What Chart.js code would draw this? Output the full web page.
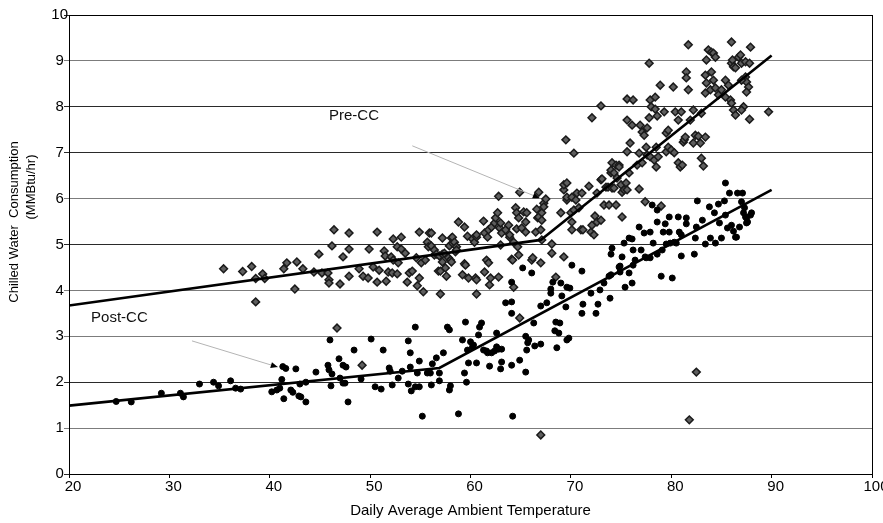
<!DOCTYPE html>
<html>
<head>
<meta charset="utf-8">
<script src="https://cdn.jsdelivr.net/npm/chart.js@4"></script>
<style>
html,body{margin:0;padding:0;overflow:hidden;background:#fff;}
#wrap{width:895px;height:523px;position:relative;}
</style>
</head>
<body>
<div id="wrap"><canvas id="c"></canvas></div>
<script>
// ---- Data ----
const xTicks = [20, 30, 40, 50, 60, 70, 80, 90, 100];
const yTicks = [0, 1, 2, 3, 4, 5, 6, 7, 8, 9, 10];

const preCCPoints = [
[35.4,4.47],[37.3,4.41],[38.2,4.52],[38.6,4.26],[38.6,3.75],[39.3,4.36],[39.5,4.26],[41.4,4.47],[41.7,4.6],[42.5,4.03],
[42.7,4.62],[43.3,4.47],[44.4,4.4],[44.9,4.79],[45.2,4.38],[45.8,4.38],[45.9,4.23],[45.9,4.16],[46.2,4.97],[46.4,5.32],
[47.0,4.14],[47.3,4.73],[47.9,4.31],[47.9,4.9],[47.9,5.25],[48.9,4.47],[49.3,4.31],[49.8,4.27],[49.9,4.9],[50.3,4.51],
[50.7,4.18],[50.7,5.27],[50.9,4.44],[51.4,4.86],[51.5,4.75],[51.6,4.2],[51.8,4.4],[52.1,4.73],[52.2,4.38],[52.3,4.66],
[52.3,5.12],[52.7,4.36],[52.7,4.95],[52.8,4.6],[53.1,4.9],[53.1,5.16],[53.5,4.81],[53.7,4.18],[53.9,4.38],[54.2,4.42],
[54.6,4.71],[54.7,4.1],[54.9,4.27],[54.9,5.27],[55.1,4.6],[55.3,3.97],[55.5,4.66],[55.7,5.05],[55.8,4.95],[55.9,5.25],
[56.1,4.97],[56.1,5.25],[56.4,4.77],[56.4,4.88],[56.6,4.79],[56.8,4.42],[56.9,4.75],[57.0,3.92],[57.0,4.42],[57.2,4.79],
[57.2,4.62],[57.2,5.14],[57.4,4.81],[57.5,4.49],[57.6,4.31],[57.8,4.71],[57.9,4.97],[58.0,4.66],[58.1,4.62],[58.1,5.14],
[58.2,5.03],[58.2,5.16],[58.4,5.05],[58.5,4.84],[58.6,4.95],[58.6,4.88],[58.8,5.49],[59.2,4.34],[59.4,4.58],[59.4,5.38],
[59.5,4.55],[59.7,5.18],[59.8,4.27],[60.2,5.12],[60.4,5.05],[60.5,4.27],[60.6,4.23],[60.6,3.92],[60.6,5.16],[60.6,5.21],
[61.3,5.51],[61.4,5.25],[61.4,4.4],[61.6,4.66],[61.7,5.16],[61.8,5.32],[61.8,4.6],[61.9,4.12],[62.0,4.27],[62.1,5.38],
[62.4,5.47],[62.5,5.58],[62.7,5.69],[62.8,6.05],[62.8,4.29],[62.9,5.36],[63.0,5.47],[63.0,4.99],[63.1,5.25],[63.5,5.32],
[63.8,5.42],[63.9,5.16],[63.9,5.21],[64.1,4.68],[64.2,4.66],[64.3,4.07],[64.3,5.05],[64.5,5.8],[64.6,5.69],[64.6,5.34],
[64.7,4.95],[64.8,5.58],[64.8,4.77],[64.9,6.14],[65.1,5.36],[65.3,5.71],[65.5,5.49],[65.5,5.27],[65.6,5.69],[66.1,4.66],
[66.2,4.71],[66.5,5.27],[66.6,5.77],[66.7,5.58],[66.8,5.6],[66.8,6.14],[67.0,5.32],[67.0,4.6],[67.1,5.69],[67.1,5.1],
[67.1,5.53],[67.3,5.9],[67.3,5.82],[67.5,5.99],[68.1,5.01],[68.1,4.81],[68.5,4.29],[69.0,5.69],[69.3,4.73],[69.3,6.19],
[69.3,6.3],[69.5,7.28],[69.6,5.97],[69.6,6.34],[69.6,6.03],[70.0,5.69],[70.1,6.03],[70.1,5.49],[70.1,5.32],[70.3,6.99],
[70.3,5.75],[70.5,5.97],[70.6,6.12],[70.8,5.8],[71.0,5.32],[71.1,6.12],[71.2,5.32],[71.8,6.27],[72.0,5.27],[72.1,5.42],
[72.1,7.76],[72.3,5.21],[72.4,5.62],[72.6,5.49],[72.6,6.12],[73.0,5.53],[73.0,8.02],[73.0,6.41],[73.1,6.43],[73.3,5.86],
[73.5,6.25],[73.7,6.25],[73.8,5.86],[74.0,6.56],[74.0,6.62],[74.1,6.78],[74.1,6.23],[74.3,6.23],[74.3,6.56],[74.5,5.86],
[74.5,6.73],[74.6,6.45],[74.8,6.73],[74.8,6.69],[75.0,6.3],[75.1,5.6],[75.1,6.14],[75.3,6.19],[75.5,6.34],[75.6,6.19],
[75.6,7.02],[75.6,7.71],[75.6,8.17],[75.8,6.56],[75.9,7.21],[76.1,7.6],[76.2,8.15],[76.6,6.73],[76.8,6.99],[76.8,6.21],
[76.9,7.6],[77.1,7.45],[77.1,6.78],[77.3,7.38],[77.4,5.93],[77.5,7.12],[77.6,7.54],[77.6,6.95],[77.8,7.76],[77.8,8.95],
[77.9,8.15],[77.9,6.91],[78.0,8.0],[78.3,6.84],[78.4,8.21],[78.4,7.95],[78.5,7.12],[78.5,6.69],[78.6,7.8],[78.7,6.91],
[78.9,8.47],[79.0,5.84],[79.3,7.89],[79.5,7.43],[79.5,7.02],[79.7,7.49],[79.7,7.12],[80.0,7.06],[80.2,8.43],[80.3,7.0],
[80.4,7.89],[80.7,7.71],[80.7,6.78],[80.9,6.69],[81.0,7.89],[81.1,6.73],[81.2,7.23],[81.3,7.28],[81.4,7.34],[81.5,8.76],
[81.5,8.63],[81.7,8.37],[81.7,9.35],[81.9,7.71],[82.2,7.93],[82.2,7.21],[82.4,7.38],[82.7,7.36],[82.9,7.21],[83.0,6.88],
[83.2,6.71],[83.4,7.34],[83.4,8.69],[83.5,9.02],[83.0,7.86],[83.4,8.3],[83.5,8.52],[83.7,9.24],[84.0,9.19],[84.2,9.17],
[84.4,9.08],[84.0,8.76],[84.2,8.58],[83.9,8.37],[84.4,8.41],[84.7,8.26],[85.0,8.37],[85.4,8.58],[85.7,8.47],[85.4,8.21],
[86.0,8.95],[86.1,9.02],[86.2,8.87],[86.0,9.41],[86.4,8.85],[86.7,9.08],[86.9,9.13],[87.0,8.95],[87.4,8.65],[87.5,8.54],
[87.7,8.43],[87.5,8.32],[87.0,8.58],[87.4,8.98],[87.9,9.3],[87.8,8.95],[85.9,8.15],[86.0,8.08],[86.2,7.93],[86.4,7.82],
[87.2,8.0],[87.0,7.93],[87.8,7.73],[89.7,7.89],
[67.0,0.85],[81.8,1.18],[82.5,2.22],[64.9,3.4],[49.2,2.37],[46.7,3.18]
];

const postCCPoints = [
[24.7,1.58],[26.2,1.57],[29.2,1.76],[31.1,1.76],[31.4,1.68],[33.0,1.96],[34.4,2.0],[34.9,1.92],[36.1,2.03],[36.6,1.87],
[37.1,1.85],[40.2,1.79],[40.7,1.83],[41.0,1.87],[41.2,2.06],[41.3,2.34],[41.6,2.3],[41.4,1.64],[42.1,1.83],[42.3,1.78],
[42.6,2.29],[42.9,1.7],[43.1,1.68],[43.6,1.57],[43.0,1.96],[43.6,2.0],[44.6,2.22],[45.8,2.37],[45.9,2.27],[46.0,2.92],
[46.2,2.18],[46.1,1.92],[46.9,2.51],[47.0,2.09],[47.3,1.98],[47.5,1.98],[47.3,2.37],[47.6,2.33],[47.8,1.57],[48.4,2.7],
[49.1,2.07],[50.1,2.94],[50.5,1.9],[51.1,1.85],[51.3,2.7],[51.9,2.31],[52.0,2.24],[52.2,1.94],[52.8,2.09],[53.2,2.24],
[53.8,2.9],[53.8,1.96],[54.0,2.64],[54.0,2.33],[54.1,1.81],[54.5,1.9],[54.5,3.2],[54.7,2.2],[54.9,2.46],[54.9,1.9],
[55.2,1.26],[55.7,2.2],[56.0,2.2],[56.1,1.94],[56.2,2.4],[56.6,2.53],[56.9,2.2],[56.9,2.03],[57.3,2.64],[57.7,3.2],
[57.9,3.14],[57.9,1.83],[58.0,1.92],[58.8,1.31],[59.2,2.92],[59.4,2.2],[59.5,3.31],[59.6,2.0],[59.7,2.7],[59.8,2.42],
[60.0,2.88],[60.2,2.77],[60.3,2.81],[60.6,2.42],[60.8,3.03],[60.9,3.2],[61.1,3.29],[61.3,2.7],[61.6,2.68],[61.7,2.64],
[61.9,2.35],[62.1,2.64],[62.4,2.68],[62.6,3.07],[62.6,2.77],[62.8,2.72],[63.0,2.29],[63.1,2.72],[63.1,2.44],[63.5,3.73],
[64.1,3.5],[64.1,3.75],[64.1,2.37],[64.2,1.26],[64.1,4.18],[64.9,2.48],[65.2,4.49],[65.5,3.0],[65.5,2.22],[65.6,2.7],
[65.7,2.86],[65.8,2.92],[66.1,4.38],[66.3,3.29],[66.4,2.79],[67.0,2.83],[67.0,3.66],[67.6,3.73],[68.0,4.03],[68.0,3.94],
[68.2,4.18],[68.4,3.12],[68.5,3.31],[68.6,2.75],[68.8,3.07],[68.9,3.29],[69.0,4.16],[69.1,3.88],[69.5,3.64],[69.6,4.07],
[69.6,2.92],[69.8,2.96],[69.9,4.05],[70.1,4.55],[71.1,4.42],[71.1,3.5],[71.2,3.7],[72.0,3.94],[72.5,3.5],[72.7,3.7],
[72.9,4.01],[73.3,4.16],[73.8,4.31],[73.9,3.83],[74.0,4.34],[74.1,4.92],[74.0,4.79],[74.8,4.51],[74.9,4.4],[74.9,4.53],
[75.1,4.73],[75.3,5.03],[75.4,4.07],[75.8,4.38],[76.1,4.16],[75.8,5.14],[76.1,5.12],[76.2,4.88],[76.2,4.55],[76.4,4.66],
[76.8,5.38],[77.0,4.88],[77.3,5.25],[77.4,4.73],[77.5,4.71],[77.9,5.27],[77.9,4.71],[78.1,5.86],[78.2,5.03],[78.6,5.75],
[78.6,4.79],[78.6,5.49],[79.0,4.31],[79.1,4.88],[79.2,5.27],[79.4,5.45],[79.5,5.01],[79.8,5.6],[79.8,5.27],[79.9,5.03],
[80.1,4.27],[80.3,5.05],[80.5,5.03],[80.7,5.6],[80.8,5.27],[81.0,4.75],[81.0,5.21],[81.5,5.58],[81.5,5.45],[82.3,4.79],
[82.4,5.14],[82.5,5.38],[82.6,5.95],[83.1,5.53],[83.4,5.01],[83.8,5.82],[83.9,5.14],[84.3,5.69],[84.4,5.03],[84.7,5.88],
[84.8,5.47],[85.0,5.14],[85.3,5.95],[85.4,6.34],[85.4,5.64],[85.6,5.36],[85.8,6.12],[86.0,5.42],[86.2,5.29],[86.4,5.16],
[86.5,5.16],[86.6,6.12],[86.8,5.38],[87.0,5.93],[87.1,6.12],[87.2,5.69],[87.3,5.8],[87.4,5.6],[87.5,5.58],[87.6,5.49],
[87.9,5.64],[88.0,5.69],[87.5,5.47]
];

// piecewise-linear fits
const preCCFit = [[20, 3.67], [67.0, 5.1], [90.0, 9.12]];
const postCCFit = [[20, 1.49], [56.9, 2.31], [90.0, 6.19]];

// callout labels (in data units)
const calloutLabels = ['Pre-CC', 'Post-CC'];
const calloutTextAt = [[45.9, 7.8], [22.2, 3.4]];
const calloutFrom = [[54.2, 7.15], [32.25, 2.90]];
const calloutTo = [[66.9, 6.01], [40.8, 2.33]];

const xTitle = 'Daily Average Ambient Temperature';
const yTitleLines = ['Chilled Water  Consumption', '(MMBtu/hr)'];

// ---- Chart ----
const FONT = "'Liberation Sans', Arial, Helvetica, sans-serif";
const toXY = arr => arr.map(p => ({x: p[0], y: p[1]}));

const overlayPlugin = {
  id: 'overlay',
  afterDraw(chart) {
    const ctx = chart.ctx, a = chart.chartArea;
    const xs = chart.scales.x, ys = chart.scales.y;
    ctx.save();
    // frame
    ctx.strokeStyle = '#000';
    ctx.lineWidth = 1;
    ctx.strokeRect(Math.round(a.left) + 0.5, Math.round(a.top) + 0.5, Math.round(a.right - a.left), Math.round(a.bottom - a.top));
    // callouts
    for (let i = 0; i < calloutLabels.length; i++) {
      const x1 = xs.getPixelForValue(calloutFrom[i][0]), y1 = ys.getPixelForValue(calloutFrom[i][1]);
      const x2 = xs.getPixelForValue(calloutTo[i][0]), y2 = ys.getPixelForValue(calloutTo[i][1]);
      ctx.strokeStyle = '#b4b4b4';
      ctx.lineWidth = 1;
      ctx.beginPath(); ctx.moveTo(x1, y1); ctx.lineTo(x2, y2); ctx.stroke();
      const ang = Math.atan2(y2 - y1, x2 - x1);
      ctx.fillStyle = '#000';
      ctx.beginPath();
      ctx.moveTo(x2, y2);
      ctx.lineTo(x2 - 7 * Math.cos(ang) + 3 * Math.sin(ang), y2 - 7 * Math.sin(ang) - 3 * Math.cos(ang));
      ctx.lineTo(x2 - 7 * Math.cos(ang) - 3 * Math.sin(ang), y2 - 7 * Math.sin(ang) + 3 * Math.cos(ang));
      ctx.closePath(); ctx.fill();
      ctx.font = '15px ' + FONT;
      ctx.fillStyle = '#111';
      ctx.textAlign = 'left';
      ctx.textBaseline = 'middle';
      ctx.fillText(calloutLabels[i], xs.getPixelForValue(calloutTextAt[i][0]), ys.getPixelForValue(calloutTextAt[i][1]));
    }
    // y-axis title (two lines)
    ctx.font = '13px ' + FONT;
    ctx.fillStyle = '#000';
    ctx.textAlign = 'center';
    ctx.textBaseline = 'middle';
    const yTitlePos = [[14, 222], [31, 187]];
    yTitleLines.forEach((t, i) => {
      ctx.save();
      ctx.translate(yTitlePos[i][0], yTitlePos[i][1]);
      ctx.rotate(-Math.PI / 2);
      ctx.fillText(t, 0, 0);
      ctx.restore();
    });
    ctx.restore();
  }
};

new Chart(document.getElementById('c'), {
  type: 'scatter',
  data: {
    datasets: [
      {label: 'Pre-CC fit', type: 'line', data: toXY(preCCFit), borderColor: '#000', borderWidth: 2.6,
       pointRadius: 0, fill: false, tension: 0, order: 0},
      {label: 'Post-CC fit', type: 'line', data: toXY(postCCFit), borderColor: '#000', borderWidth: 2.6,
       pointRadius: 0, fill: false, tension: 0, order: 0},
      {label: 'Post-CC', data: toXY(postCCPoints), pointStyle: 'circle', pointRadius: 3, borderWidth: 1,
       backgroundColor: '#000', borderColor: '#000', order: 1},
      {label: 'Pre-CC', data: toXY(preCCPoints), pointStyle: 'rectRot', pointRadius: 3.9, borderWidth: 1.5,
       backgroundColor: '#5e5e5e', borderColor: '#1a1a1a', order: 2}
    ]
  },
  options: {
    responsive: true,
    maintainAspectRatio: false,
    devicePixelRatio: 1,
    animation: false,
    events: [],
    layout: {padding: {top: 15, right: 23, left: 0, bottom: 0}},
    plugins: {legend: {display: false}, tooltip: {enabled: false}, title: {display: false}},
    scales: {
      x: {
        type: 'linear', min: 20, max: 100,
        afterBuildTicks: s => { s.ticks = xTicks.map(v => ({value: v})); },
        afterFit: s => { s.height = 49; },
        border: {display: true, color: '#000', width: 1},
        grid: {drawOnChartArea: false, drawTicks: true, tickLength: 4, color: '#000'},
        ticks: {color: '#000', font: {family: FONT, size: 15}, padding: 0, labelOffset: 4, maxRotation: 0, autoSkip: false},
        title: {display: true, text: xTitle, color: '#000', font: {family: FONT, size: 15}, padding: {top: 0, bottom: 3}}
      },
      y: {
        type: 'linear', min: 0, max: 10,
        afterBuildTicks: s => { s.ticks = yTicks.map(v => ({value: v})); },
        afterFit: s => { s.width = 69; },
        border: {display: true, color: '#000', width: 1},
        grid: {drawOnChartArea: true, drawTicks: true, tickLength: 5, lineWidth: 1,
               color: c => [1, 3, 4, 6, 9].includes(c.tick && c.tick.value) ? '#7c7c7c' : '#2a2a2a'},
        ticks: {color: '#000', font: {family: FONT, size: 15}, padding: -4, crossAlign: 'center', autoSkip: false}
      }
    }
  },
  plugins: [overlayPlugin]
});
</script>
</body>
</html>
